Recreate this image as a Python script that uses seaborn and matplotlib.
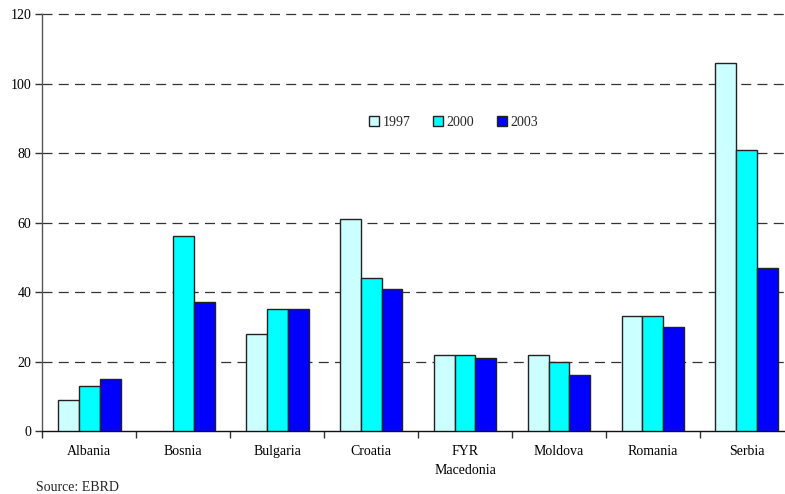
import numpy as np
import pandas as pd
import matplotlib
matplotlib.use("Agg")
import matplotlib.pyplot as plt
import seaborn as sns
from matplotlib.ticker import FixedLocator

countries = ["Albania", "Bosnia", "Bulgaria", "Croatia", "FYR\nMacedonia",
             "Moldova", "Romania", "Serbia"]
years = ["1997", "2000", "2003"]
v1997 = [9, np.nan, 28, 61, 22, 22, 33, 106]
v2000 = [13, 56, 35, 44, 22, 20, 33, 81]
v2003 = [15, 37, 35, 41, 21, 16, 30, 47]
y_ticks = [0, 20, 40, 60, 80, 100, 120]
colors = ["#CCFFFF", "#00FFFF", "#0000FF"]

df = pd.DataFrame({
    "country": countries * 3,
    "year": [y for y in years for _ in countries],
    "value": v1997 + v2000 + v2003,
})

sns.set_theme(style="white")
plt.rcParams["font.family"] = ["Liberation Serif", "DejaVu Serif"]
plt.rcParams["font.size"] = 10

fig = plt.figure(figsize=(7.85, 4.94), dpi=100)
ax = fig.add_axes([0.0541, 0.1275, 0.9570, 0.8441])

sns.barplot(data=df, x="country", y="value", hue="year", order=countries,
            hue_order=years, palette=colors, width=2 / 3, gap=0,
            edgecolor="#222222", linewidth=1.0, saturation=1, ax=ax,
            errorbar=None, zorder=3)

ax.set_xlim(-0.5, len(countries) - 0.5)
ax.set_ylim(0, 120)
ax.set_yticks(y_ticks)
ax.set_xlabel("")
ax.set_ylabel("")

# dashed horizontal gridlines
for y in y_ticks[1:]:
    ax.axhline(y, color="#333333", lw=0.9, ls=(0, (8, 5)), zorder=1, clip_on=False)

for side in ["top", "right"]:
    ax.spines[side].set_visible(False)
ax.spines["left"].set_color("#555555")
ax.spines["left"].set_linewidth(1.0)
ax.spines["bottom"].set_color("#111111")
ax.spines["bottom"].set_linewidth(1.0)

ax.tick_params(axis="y", which="major", left=True, length=5, width=1,
               color="#333333", pad=3, labelsize=10, labelcolor="black")
ax.tick_params(axis="x", which="major", bottom=False, length=0, pad=10,
               labelsize=10, labelcolor="black")
for lbl in ax.get_xticklabels():
    lbl.set_linespacing(1.6)
ax.xaxis.set_minor_locator(FixedLocator(np.arange(-0.5, len(countries), 1.0)))
ax.tick_params(axis="x", which="minor", bottom=True, length=5, width=1,
               color="#333333")

leg = ax.legend(loc="center", bbox_to_anchor=(0.547, 0.741), ncol=3,
                frameon=False, handlelength=0.75, handleheight=0.75,
                handletextpad=0.25, columnspacing=1.6, fontsize=10)
for h in leg.legend_handles:
    h.set_edgecolor("#222222")
    h.set_linewidth(1.0)

fig.text(36 / 785, 1 - 487 / 494, "Source: EBRD", fontsize=10,
         ha="left", va="center")

fig.savefig("out.png", dpi=100)
